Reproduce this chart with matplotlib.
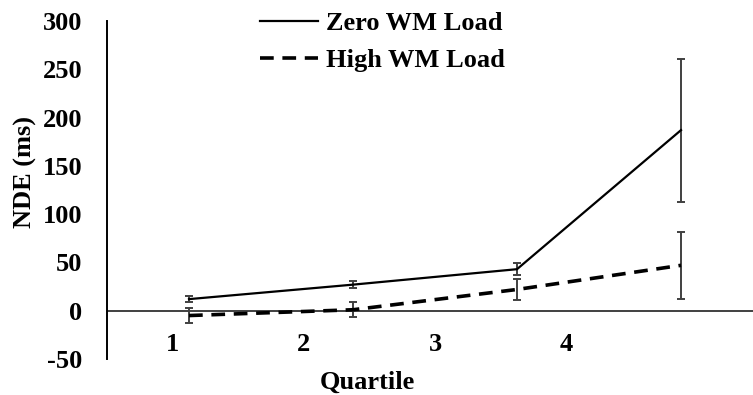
import matplotlib.pyplot as plt

plt.rcParams['font.family'] = 'Liberation Serif'
plt.rcParams['font.weight'] = 'bold'
plt.rcParams['axes.unicode_minus'] = False

quartiles = [1, 2, 3, 4]
zero_load = [12, 27, 43, 187]
zero_err = [3, 3.5, 6, 74]
high_load = [-5, 1, 22, 47]
high_err = [7.5, 8, 10.5, 35]

fs = 19

fig = plt.figure(figsize=(7.53, 3.95), dpi=100)
ax = fig.add_axes([107 / 753, 36 / 395, 656 / 753, 338 / 395])

ecol = '#404040'
ax.errorbar(quartiles, zero_load, yerr=zero_err, color='black', lw=1.6,
            ecolor=ecol, elinewidth=1.4, capsize=3, capthick=1.4,
            label='Zero WM Load')
ax.errorbar(quartiles, high_load, yerr=high_err, color='black', lw=2.6,
            ls=(0, (3.8, 2.4)), ecolor=ecol, elinewidth=1.4, capsize=3,
            capthick=1.4, label='High WM Load')

ax.set_xlim(0.5, 4.5)
ax.set_ylim(-50, 300)
ax.set_yticks(range(-50, 301, 50))
ax.axhline(0, color=ecol, lw=1.4, zorder=0)

for s in ['top', 'right', 'bottom']:
    ax.spines[s].set_visible(False)
ax.spines['left'].set_linewidth(1.4)
ax.tick_params(axis='y', length=0, pad=18, labelsize=fs)
ax.set_xticks([])

# category labels sit on a 5-slot scale across the axis, like the original
sec = ax.secondary_xaxis('bottom', functions=(lambda x: 0.5 + (x - 0.5) * 1.25,
                                              lambda x: 0.5 + (x - 0.5) / 1.25))
sec.set_xticks(quartiles)
sec.spines['bottom'].set_visible(False)
sec.tick_params(length=0, pad=-19, labelsize=fs)

ax.set_ylabel('NDE (ms)', fontsize=fs, fontweight='bold')
ax.yaxis.set_label_coords(-0.107, 0.553)
fig.text(367 / 753, 1 - 382 / 395, 'Quartile', ha='center', va='center',
         fontsize=fs, fontweight='bold')

leg = ax.legend(handles=[c.lines[0] for c in ax.containers],
                labels=['Zero WM Load', 'High WM Load'],
                loc='upper left', bbox_to_anchor=(0.233, 1.027), frameon=False,
                fontsize=fs, handlelength=2.2, handletextpad=0.3,
                labelspacing=0.5, borderaxespad=0, borderpad=0)

fig.savefig('out.png', dpi=100)
